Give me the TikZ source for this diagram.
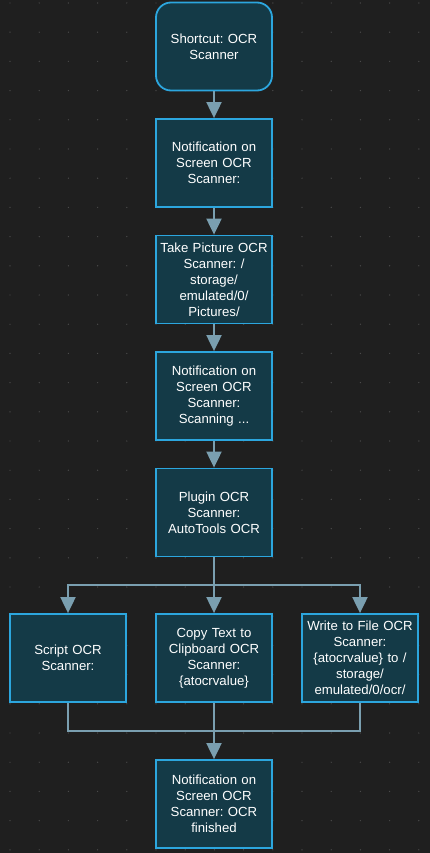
\documentclass[tikz,border=0pt]{standalone}
\usepackage{fontspec}
\setmainfont{Liberation Sans}
\usetikzlibrary{arrows.meta}

\definecolor{fond}{HTML}{1F1F1F}
\definecolor{point}{HTML}{4A4A4A}
\definecolor{boite}{HTML}{143A47}
\definecolor{bord}{HTML}{2CA6DE}
\definecolor{lien}{HTML}{7A9FB0}

\begin{document}
\begin{tikzpicture}[x=1pt, y=-1pt,
  etape/.style={draw=bord, fill=boite, line width=1.8pt,
    minimum width=116pt, minimum height=88pt, text width=114pt,
    align=center, inner sep=0pt, text=white,
    font=\fontsize{13.2}{16}\selectfont\frenchspacing},
  fleche/.style={draw=lien, line width=2pt,
    -{Triangle[width=15pt, length=16pt]}},
  trait/.style={draw=lien, line width=2pt}]

  % Fond et grille de points
  \fill[fond] (0,0) rectangle (430,853);
  \foreach \i in {0,...,14}
    \foreach \j in {0,...,29}
      \fill[point] ({10+29.2*\i},{3+29.2*\j}) circle (0.7pt);

  % Colonne principale
  \node[etape, rounded corners=15pt] (raccourci) at (214,46.5) {Shortcut: OCR\\Scanner};
  \node[etape] (notif1) at (214,163) {Notification on\\Screen OCR\\Scanner:};
  \node[etape] (photo) at (214,279.5) {Take Picture OCR\\Scanner: /\\storage/\\emulated/0/\\Pictures/};
  \node[etape] (notif2) at (214,396) {Notification on\\Screen OCR\\Scanner:\\Scanning ...};
  \node[etape] (plugin) at (214,512.5) {Plugin OCR\\Scanner:\\AutoTools OCR};

  % Trois branches
  \node[etape] (script) at (68,658) {Script OCR\\Scanner:};
  \node[etape] (copie) at (214,658) {Copy Text to\\Clipboard OCR\\Scanner:\\\{atocrvalue\}};
  \node[etape] (ecrire) at (360,658) {Write to File OCR\\Scanner:\\\{atocrvalue\} to /\\storage/\\emulated/0/ocr/};

  % Fin
  \node[etape] (notif3) at (214,804) {Notification on\\Screen OCR\\Scanner: OCR\\finished};

  % Flèches principales
  \draw[fleche] (raccourci) -- (notif1);
  \draw[fleche] (notif1) -- (photo);
  \draw[fleche] (photo) -- (notif2);
  \draw[fleche] (notif2) -- (plugin);

  % Séparation
  \coordinate (sep) at (214,585);
  \draw[trait] (plugin.south) -- (sep);
  \draw[fleche] (sep) -| (script.north);
  \draw[fleche] (sep) -- (copie.north);
  \draw[fleche] (sep) -| (ecrire.north);

  % Réunion
  \coordinate (jonc) at (214,731);
  \draw[trait] (script.south) |- (jonc);
  \draw[trait] (ecrire.south) |- (jonc);
  \draw[fleche] (copie.south) -- (notif3.north);

\end{tikzpicture}
\end{document}
